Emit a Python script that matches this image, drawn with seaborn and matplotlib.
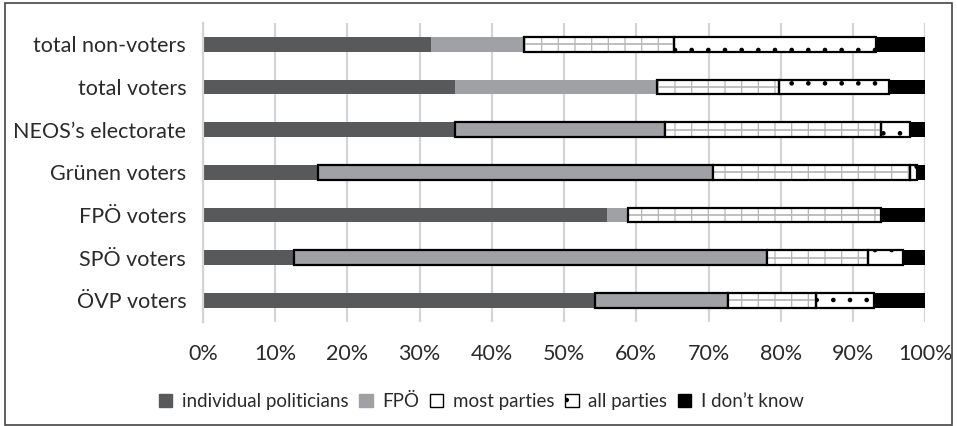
import numpy as np
import matplotlib
matplotlib.use("Agg")
import matplotlib.pyplot as plt
import seaborn as sns
from matplotlib.patches import Patch, Rectangle
from matplotlib.ticker import PercentFormatter, MultipleLocator

# data (percent shares)
groups = ["total non-voters", "total voters", "NEOS\u2019s electorate", "Gr\u00fcnen voters",
          "FP\u00d6 voters", "SP\u00d6 voters", "\u00d6VP voters"]
individual = [31.6, 34.9, 34.9, 15.9, 55.9, 12.6, 54.3]
fpoe = [12.9, 28.0, 29.0, 54.7, 3.0, 65.5, 18.4]
most_parties = [20.7, 16.9, 30.0, 27.3, 35.0, 13.9, 12.2]
all_parties = [27.9, 15.1, 4.0, 1.0, 0.0, 4.9, 8.0]
dont_know = [6.9, 5.1, 2.1, 1.1, 6.1, 3.1, 7.1]
series_names = ["individual politicians", "FP\u00d6", "most parties", "all parties", "I don\u2019t know"]
# rows where the FPÖ segment has a black border
fpoe_outlined = [False, False, True, True, False, True, True]

sns.set_theme(style="white")
plt.rcParams['font.family'] = ['Lato', 'DejaVu Sans']
plt.rcParams['hatch.linewidth'] = 0.9

dark = "#58595b"
light = "#a0a1a4"
brick = "#b4b4b4"
text_col = "#2a2a2a"

fig, ax = plt.subplots(figsize=(9.57, 4.26), dpi=100)
fig.subplots_adjust(left=0.212, right=0.967, top=0.946, bottom=0.245)

series = [individual, fpoe, most_parties, all_parties, dont_know]
left = np.zeros(len(groups))
for i, vals in enumerate(series):
    n0 = len(ax.patches)
    sns.barplot(x=vals, y=groups, order=groups, orient="h", left=left,
                color="white", width=0.35, ax=ax, linewidth=0, saturation=1)
    bars = ax.patches[n0:]
    for j, p in enumerate(bars):
        if i == 0:
            p.set_facecolor(dark)
        elif i == 1:
            p.set_facecolor(light)
            if fpoe_outlined[j]:
                p.set_edgecolor("black")
                p.set_linewidth(1.6)
        elif i == 2:
            # brick-like texture: vertical hatch plus a middle line, black outline
            p.set_facecolor("white")
            p.set_hatch("|")
            p.set_edgecolor(brick)
            p.set_linewidth(0)
            if vals[j] > 0:
                x0, y0 = p.get_xy()
                ax.plot([x0, x0 + p.get_width()], [y0 + p.get_height() / 2] * 2,
                        color=brick, lw=1.2, zorder=2.5, solid_capstyle="butt")
                ax.add_patch(Rectangle(p.get_xy(), p.get_width(), p.get_height(),
                                       fill=False, ec="black", lw=1.6, zorder=3))
        elif i == 3:
            p.set_facecolor("white")
            p.set_hatch(".")
            p.set_edgecolor("black")
            p.set_linewidth(1.6 if vals[j] > 0 else 0)
        else:
            p.set_facecolor("black")
    left = left + np.array(vals)

ax.set_xlim(0, 100)
ax.set_ylim(6.5, -0.5)
ax.xaxis.set_major_locator(MultipleLocator(10))
ax.xaxis.set_major_formatter(PercentFormatter(decimals=0))
ax.grid(axis="x", color="#d4d4d4", linewidth=1.6)
ax.set_axisbelow(True)
for s in ["top", "right", "bottom"]:
    ax.spines[s].set_visible(False)
ax.spines["left"].set_color("#d4d4d4")
ax.spines["left"].set_linewidth(1.6)
ax.tick_params(axis="both", length=0, labelsize=15.5, colors=text_col)
ax.tick_params(axis="y", pad=12)
ax.tick_params(axis="x", pad=16)
ax.set_xlabel("")
ax.set_ylabel("")

handles = [
    Patch(facecolor=dark, edgecolor=dark),
    Patch(facecolor=light, edgecolor=light),
    Patch(facecolor="white", edgecolor="black", hatch="_"),
    Patch(facecolor="white", edgecolor="black", hatch="."),
    Patch(facecolor="black", edgecolor="black"),
]
fig.legend(handles, series_names, loc="center", bbox_to_anchor=(0.503, 0.058), ncol=5,
           frameon=False, fontsize=13.5, handlelength=0.7, handleheight=0.7,
           handletextpad=0.5, columnspacing=0.6, labelcolor=text_col)

fig.add_artist(Rectangle((0.005, 0.003), 0.99, 0.99, transform=fig.transFigure,
                         fill=False, ec="#444444", lw=1.2))

fig.savefig("out.png", dpi=100)
